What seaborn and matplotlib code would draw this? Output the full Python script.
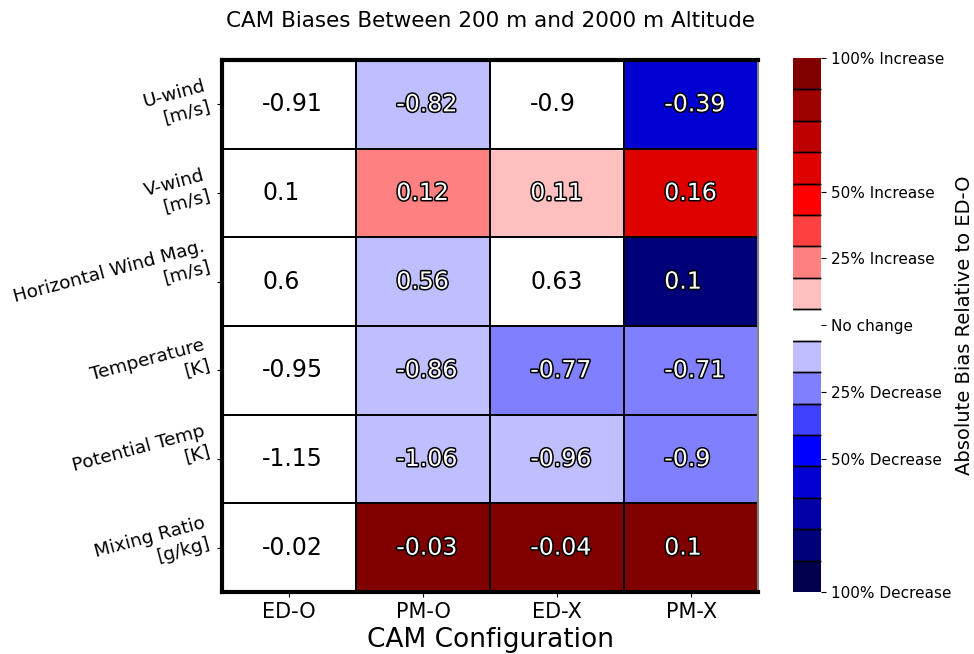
import matplotlib.pyplot as plt
import matplotlib.patheffects as pe
import seaborn as sns
import pandas as pd
import numpy as np

# data
variables = ["U-wind\n[m/s]", "V-wind\n[m/s]", "Horizontal Wind Mag.\n[m/s]",
             "Temperature\n[K]", "Potential Temp\n[K]", "Mixing Ratio\n[g/kg]"]
configs = ["ED-O", "PM-O", "ED-X", "PM-X"]

# mean bias shown in each cell
bias = [[-0.91, -0.82, -0.9, -0.39],
        [0.1, 0.12, 0.11, 0.16],
        [0.6, 0.56, 0.63, 0.1],
        [-0.95, -0.86, -0.77, -0.71],
        [-1.15, -1.06, -0.96, -0.9],
        [-0.02, -0.03, -0.04, 0.1]]

# change of |bias| relative to ED-O (colour)
rel_change = [[0.0, -0.10, -0.01, -0.57],
              [0.0, 0.20, 0.10, 0.60],
              [0.0, -0.07, 0.05, -0.83],
              [0.0, -0.09, -0.19, -0.25],
              [0.0, -0.08, -0.17, -0.22],
              [0.0, 1.0, 1.0, 1.0]]

cbar_ticks = [-1, -0.5, -0.25, 0, 0.25, 0.5, 1]
cbar_labels = ["100% Decrease", "50% Decrease", "25% Decrease", "No change",
               "25% Increase", "50% Increase", "100% Increase"]

n_levels = 17

df = pd.DataFrame(rel_change, index=variables, columns=configs)

fig = plt.figure(figsize=(9.74, 6.54), dpi=100)
ax = fig.add_axes([0.228, 0.0948, 0.5503, 0.8135])
cax = fig.add_axes([0.814, 0.0948, 0.0287, 0.8165])

cmap = plt.get_cmap("seismic", n_levels)
sns.heatmap(df, ax=ax, cmap=cmap, vmin=-1, vmax=1, linewidths=1.2, linecolor="black",
            cbar_ax=cax, cbar_kws={"drawedges": True})

for i in range(len(variables)):
    for j in range(len(configs)):
        txt = str(bias[i][j])
        if abs(rel_change[i][j]) < 1 / n_levels:
            ax.text(j + 0.3, i + 0.5, txt, ha="left", va="center", fontsize=17, color="black")
        else:
            ax.text(j + 0.3, i + 0.5, txt, ha="left", va="center", fontsize=17, color="white",
                    path_effects=[pe.withStroke(linewidth=2.2, foreground="black")])

for side in ["left", "top", "bottom"]:
    ax.spines[side].set_visible(True)
    ax.spines[side].set_linewidth(3)
    ax.spines[side].set_color("black")
ax.spines["right"].set_visible(True)
ax.spines["right"].set_linewidth(1.5)
ax.spines["right"].set_color("gray")

ax.set_yticklabels(variables, rotation=15, ha="right", multialignment="right", fontsize=13.3)
ax.set_xticklabels(configs, rotation=0, fontsize=15)
ax.set_xlabel("CAM Configuration", fontsize=19)
ax.set_ylabel("")
ax.set_title("CAM Biases Between 200 m and 2000 m Altitude", fontsize=15.5, pad=24)

cbar = ax.collections[0].colorbar
cbar.set_ticks(cbar_ticks)
cbar.set_ticklabels(cbar_labels)
cbar.ax.tick_params(labelsize=11)
cbar.outline.set_edgecolor("black")
cbar.dividers.set_color("black")
cbar.dividers.set_linewidth(1)
# make sure every level boundary shows a divider line
for b in np.linspace(-1, 1, n_levels + 1)[1:-1]:
    cbar.ax.axhline(b, color="black", linewidth=1)
cbar.set_label("Absolute Bias Relative to ED-O", fontsize=14, labelpad=3)

fig.savefig("out.png", dpi=100)
